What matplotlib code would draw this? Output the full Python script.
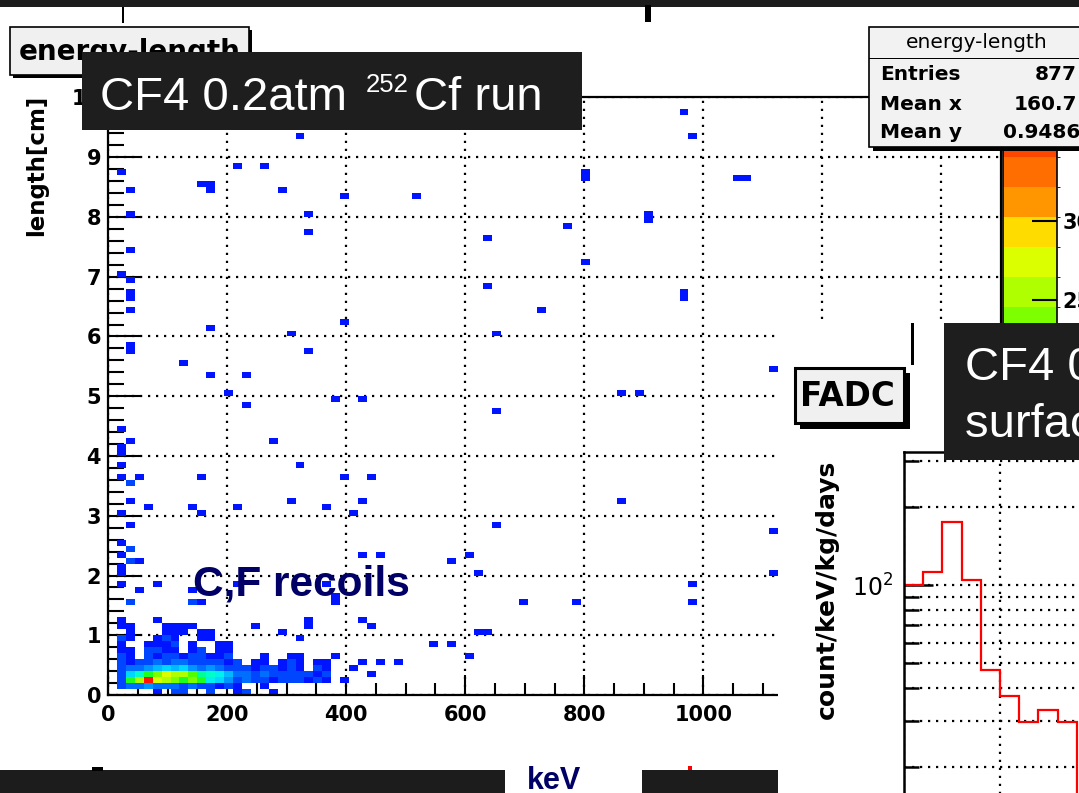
import numpy as np
import matplotlib
matplotlib.use("Agg")
import matplotlib.pyplot as plt
from matplotlib.colors import ListedColormap, BoundaryNorm
from matplotlib.patches import Rectangle
from matplotlib.ticker import NullFormatter

# ---------------- data ----------------
# single-count bins of the energy-length histogram: energy [keV], length [cm]
iso_energy = [322, 216, 262, 20, 37, 156, 172, 172, 292, 396,
              37, 336, 336, 37, 20, 37, 37, 37, 37, 171,
              396, 308, 336, 37, 37, 128, 171, 232, 201, 232,
              381, 426, 20, 37, 20, 20, 20, 20, 53, 154,
              276, 322, 396, 442, 37, 67, 141, 216, 154, 308,
              366, 426, 409, 20, 37, 20, 20, 53, 20, 20,
              426, 456, 20, 82, 53, 216, 367, 141, 154, 383,
              383, 20, 82, 336, 426, 442, 615, 630, 546, 577,
              605, 383, 426, 456, 487, 412, 442, 395, 966, 981,
              800, 800, 1062, 1078, 517, 907, 907, 772, 637, 800,
              637, 966, 966, 726, 651, 1115, 860, 893, 651, 860,
              651, 1115, 605, 577, 621, 1115, 981, 697, 786, 981]
iso_length = [9.38, 8.87, 8.87, 8.78, 8.46, 8.55, 8.55, 8.45, 8.46, 8.36,
              8.08, 8.08, 7.76, 7.48, 7.06, 6.96, 6.72, 6.62, 6.46, 6.19,
              6.28, 6.09, 5.77, 5.87, 5.77, 5.59, 5.38, 5.38, 5.07, 4.89,
              4.99, 4.99, 4.46, 4.20, 4.12, 4.02, 3.87, 3.67, 3.60, 3.60,
              4.29, 3.87, 3.69, 3.60, 3.27, 3.18, 3.18, 3.18, 3.02, 3.27,
              3.18, 3.27, 3.02, 3.02, 2.81, 2.56, 2.35, 2.30, 2.12, 2.02,
              2.40, 2.40, 1.89, 1.89, 1.78, 1.89, 1.89, 1.71, 1.52, 1.65,
              1.55, 1.28, 1.28, 1.28, 1.22, 1.10, 1.02, 1.02, 0.81, 0.81,
              0.69, 0.69, 0.53, 0.56, 0.50, 0.42, 0.31, 0.22, 9.75, 9.38,
              8.71, 8.61, 8.66, 8.66, 8.36, 8.02, 7.92, 7.85, 7.66, 7.25,
              6.88, 6.72, 6.62, 6.47, 6.09, 5.49, 5.08, 5.08, 4.79, 3.29,
              2.90, 2.80, 2.39, 2.20, 2.09, 2.09, 1.88, 1.50, 1.50, 1.50]

# a few isolated bins with more than one count
multi_energy = [37, 37, 37, 37, 141]
multi_length = [3.50, 2.42, 2.28, 1.52, 1.52]
multi_counts = [3, 2, 3, 3, 3]

# dense low-energy core, 15 keV x 0.1 cm bins; rows: length 0.0 .. 1.2 cm, cols: energy 0 .. 375 keV
core_counts = [
    [0, 0, 0, 0, 0, 1, 0, 2, 3, 0, 0, 2, 0, 0, 1, 2, 0, 0, 1, 0, 0, 0, 0, 0, 0],
    [0, 2, 4, 5, 6, 5, 4, 5, 3, 4, 2, 3, 1, 2, 1, 0, 0, 1, 0, 0, 0, 0, 0, 0, 0],
    [0, 3, 20, 26, 37, 27, 25, 23, 20, 24, 19, 13, 11, 7, 3, 5, 2, 2, 1, 2, 3, 2, 1, 2, 1],
    [0, 2, 10, 14, 19, 24, 27, 25, 26, 21, 17, 14, 12, 9, 5, 4, 3, 4, 2, 3, 2, 3, 2, 1, 2],
    [0, 3, 5, 4, 6, 9, 11, 8, 10, 7, 5, 6, 4, 3, 2, 2, 1, 2, 2, 1, 2, 1, 0, 2, 1],
    [0, 2, 1, 3, 2, 4, 3, 5, 4, 3, 2, 3, 2, 1, 2, 0, 1, 1, 0, 1, 2, 1, 0, 1, 1],
    [0, 2, 1, 0, 2, 1, 3, 2, 1, 2, 2, 1, 1, 2, 0, 0, 0, 1, 0, 0, 1, 1, 0, 0, 0],
    [0, 1, 1, 0, 2, 2, 1, 1, 0, 1, 2, 0, 1, 1, 0, 0, 0, 0, 0, 0, 0, 0, 0, 0, 0],
    [0, 1, 0, 0, 1, 1, 1, 2, 0, 1, 0, 0, 1, 1, 0, 0, 0, 0, 0, 0, 0, 0, 0, 0, 0],
    [0, 2, 1, 0, 0, 1, 2, 1, 0, 0, 1, 1, 0, 0, 0, 0, 0, 0, 0, 0, 0, 1, 0, 0, 0],
    [0, 0, 1, 0, 0, 0, 1, 1, 1, 0, 1, 1, 0, 0, 0, 0, 0, 0, 0, 1, 0, 0, 0, 0, 0],
    [0, 1, 1, 0, 0, 0, 1, 1, 1, 1, 0, 0, 0, 0, 0, 0, 1, 0, 0, 0, 0, 0, 1, 0, 0],
]

stats_names = ["Entries", "Mean x", "Mean y"]
stats_values = ["877", "160.7", "0.9486"]

# FADC spectrum, 10 keV bins
fadc_edges = [0, 10, 20, 30, 40, 50, 60, 70, 80, 90, 100]
fadc_rate = [100, 112, 174, 105, 47, 37.4, 29.8, 33.1, 29.8, 15]

# ROOT-like palette, 20 contour levels
palette = ["#0014ff", "#0046ff", "#006eff", "#0096ff", "#00b9ff", "#00d7ff", "#00f0f0", "#00ffc8",
           "#00ff96", "#00ff5a", "#1eff1e", "#50ff00", "#7dff00", "#afff00", "#dcff00", "#ffdc00",
           "#ff9600", "#ff6e00", "#ff4600", "#ff1400"]
zmax = 37.8

# ---------------- figure ----------------
W, H = 1079, 793
plt.rcParams["font.family"] = "DejaVu Sans"
plt.rcParams["mathtext.fontset"] = "dejavusans"
plt.rcParams["mathtext.default"] = "regular"

fig = plt.figure(figsize=(W / 100, H / 100), dpi=100)
fig.patch.set_facecolor("white")


def fx(px):
    return px / W


def fy(py):
    return 1 - py / H


def box(x0, y0, x1, y1, z, **kw):
    r = Rectangle((fx(x0), fy(y1)), (x1 - x0) / W, (y1 - y0) / H,
                  transform=fig.transFigure, zorder=z, **kw)
    fig.add_artist(r)
    return r


dots = (0, (1, 2.6))
dot_lw = 1.6

# main 2D histogram
ax = fig.add_axes([fx(108), fy(695), (1001 - 108) / W, (695 - 97.5) / H])
x_edges = np.arange(0, 1515, 15)
y_edges = np.linspace(0, 10, 101)
all_e = np.concatenate([iso_energy, multi_energy])
all_l = np.concatenate([iso_length, multi_length])
all_w = np.concatenate([np.ones(len(iso_energy)), multi_counts])
counts, _, _ = np.histogram2d(all_e, all_l, bins=[x_edges, y_edges], weights=all_w)
core = np.array(core_counts, dtype=float)
counts[:core.shape[1], :core.shape[0]] += core.T

cmap = ListedColormap(palette)
norm = BoundaryNorm(np.linspace(0, zmax, len(palette) + 1), cmap.N)
mesh = ax.pcolormesh(x_edges, y_edges, np.ma.masked_equal(counts.T, 0), cmap=cmap, norm=norm,
                     edgecolors="none", antialiased=False)

ax.set_xlim(0, 1500)
ax.set_ylim(0, 10)
ax.set_xticks(np.arange(0, 1501, 200))
ax.set_xticks(np.arange(0, 1501, 50), minor=True)
ax.set_yticks(np.arange(0, 11, 1))
ax.set_yticks(np.arange(0, 10.01, 0.2), minor=True)
ax.set_xticklabels([str(v) for v in range(0, 1501, 200)], fontweight="bold")
ax.set_yticklabels([str(v) for v in range(0, 11)], fontweight="bold")
ax.tick_params(axis="x", which="major", direction="in", length=14.5, width=1.5, labelsize=15, pad=7)
ax.tick_params(axis="x", which="minor", direction="in", length=9, width=1.5)
ax.tick_params(axis="y", which="major", direction="in", length=23, width=1.5, labelsize=15, pad=5)
ax.tick_params(axis="y", which="minor", direction="in", length=11.5, width=1.5)
ax.set_axisbelow(True)
ax.grid(True, which="major", color="black", linestyle=dots, linewidth=dot_lw)
for s in ax.spines.values():
    s.set_linewidth(1.6)

# palette
cax = fig.add_axes([fx(1003), fy(695), 54 / W, (695 - 97.5) / H])
cb = fig.colorbar(mesh, cax=cax, ticks=np.arange(0, 36, 5))
cb.outline.set_linewidth(1.2)
cax.tick_params(direction="in", length=18, width=1.5, labelsize=15, pad=4)
for lab in cax.get_yticklabels():
    lab.set_fontweight("bold")

fig.text(fx(37), fy(165), "length[cm]", rotation=90, ha="center", va="center",
         fontsize=16.5, fontweight="bold")

# frame pieces of the slide
box(0, 0, W, 7, 2, facecolor="#1c1c1c", edgecolor="none")
box(122, 7, 124, 23, 2, facecolor="black", edgecolor="none")
box(645, 5, 651, 22, 2, facecolor="black", edgecolor="none")

# title box
box(13, 30, 252, 78, 2, facecolor="black", edgecolor="none")
box(10, 27, 249, 75, 2.05, facecolor="#f0f0f0", edgecolor="black", linewidth=1.2)
fig.text(fx(130), fy(52), "energy-length", ha="center", va="center", fontsize=20,
         fontweight="bold", zorder=2.1)

# run label
box(82, 52, 582, 130, 3, facecolor="#1e1e1e", edgecolor="none")
fig.text(fx(100), fy(110), "CF4 0.2atm", color="white", fontsize=34, family="Liberation Sans",
         va="baseline", zorder=3.1)
fig.text(fx(366), fy(92), "252", color="white", fontsize=18.5, family="Liberation Sans",
         va="baseline", zorder=3.1)
fig.text(fx(414), fy(110), "Cf run", color="white", fontsize=34, family="Liberation Sans",
         va="baseline", zorder=3.1)

# stats box
box(873, 31, 1095, 151, 3, facecolor="black", edgecolor="none")
box(869, 27, 1092, 147, 3.05, facecolor="#f2f2f2", edgecolor="black", linewidth=1.2)
box(869, 58, 1092, 59, 3.1, facecolor="black", edgecolor="none")
fig.text(fx(977), fy(42), "energy-length", ha="center", va="center", fontsize=14.5, zorder=3.2)
for k, (name, val) in enumerate(zip(stats_names, stats_values)):
    yy = [74, 104, 132][k]
    fig.text(fx(880), fy(yy), name, ha="left", va="center", fontsize=14.5, fontweight="bold",
             zorder=3.2)
    if len(val) > 5:
        fig.text(fx(1003), fy(yy), val, ha="left", va="center", fontsize=14.5,
                 fontweight="bold", zorder=3.2)
    else:
        fig.text(fx(1077), fy(yy), val, ha="right", va="center", fontsize=14.5,
                 fontweight="bold", zorder=3.2)

fig.text(fx(193), fy(596), "C,F recoils", color="#000066", fontsize=30.5, family="Liberation Sans",
         fontweight="bold", va="baseline", zorder=3)

# FADC panel pasted over the lower right corner
box(778, 323, W, H, 4, facecolor="white", edgecolor="none")
fa = fig.add_axes([fx(904), fy(1105), 400 / W, (1105 - 452) / H])
fa.set_zorder(5)
fa.set_yscale("log")
fa.set_xlim(0, 400 / 1.92)
fa.set_ylim(1, 324.8)
fa.stairs(fadc_rate, fadc_edges, color="red", linewidth=1.6, baseline=None)
fa.set_xticks([0, 50, 100, 150, 200])
fa.set_xticklabels([])
fa.set_yticks([10, 100])
fa.set_yticklabels(["", r"$10^{2}$"])
fa.set_yticks([2, 3, 4, 5, 6, 7, 8, 9, 20, 30, 40, 50, 60, 70, 80, 90, 200, 300], minor=True)
fa.yaxis.set_minor_formatter(NullFormatter())
fa.tick_params(axis="y", which="major", direction="in", length=21, width=1.8, labelsize=17, pad=8)
fa.tick_params(axis="y", which="minor", direction="in", length=11, width=1.8)
fa.tick_params(axis="x", direction="in", length=0)
fa.grid(True, which="both", axis="y", color="black", linestyle=dots, linewidth=dot_lw)
fa.grid(True, which="major", axis="x", color="black", linestyle=dots, linewidth=dot_lw)
fa.set_axisbelow(True)
for s in fa.spines.values():
    s.set_linewidth(1.8)
fig.text(fx(827), fy(589), "count/keV/kg/days", rotation=90, ha="center", va="center",
         fontsize=18, fontweight="bold", zorder=6)

box(800, 373, 910, 429, 6, facecolor="black", edgecolor="none")
box(795, 368, 904, 423, 6.05, facecolor="#f0f0f0", edgecolor="black", linewidth=2.2)
fig.text(fx(847), fy(396), "FADC", ha="center", va="center", fontsize=23.5, fontweight="bold",
         zorder=6.1)
box(911, 323, 913.5, 365, 6, facecolor="black", edgecolor="none")

box(944, 323, W, 460, 6, facecolor="#1e1e1e", edgecolor="none")
fig.text(fx(965), fy(380), "CF4 0.1atm", color="white", fontsize=34, family="Liberation Sans",
         va="baseline", zorder=6.1)
fig.text(fx(965), fy(437), "surface run", color="white", fontsize=34, family="Liberation Sans",
         va="baseline", zorder=6.1)

# bottom strips of the slide
box(0, 770, 505, H, 6, facecolor="#1c1c1c", edgecolor="none")
box(642, 770, 778, H, 6, facecolor="#1c1c1c", edgecolor="none")
box(92, 767, 103, 771, 6.1, facecolor="black", edgecolor="none")
box(688, 766, 692, 770, 6.1, facecolor="red", edgecolor="none")
fig.text(fx(554), fy(789), "keV", color="#000066", fontsize=22, family="Liberation Sans",
         fontweight="bold", ha="center", va="baseline", zorder=6.1)

fig.savefig("out.png", dpi=100)
